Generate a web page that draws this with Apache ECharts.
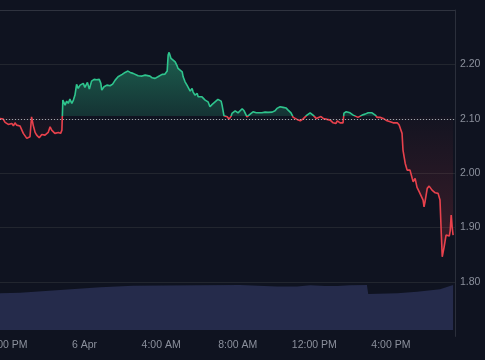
<!DOCTYPE html>
<html>
<head>
<meta charset="utf-8">
<script src="https://cdn.jsdelivr.net/npm/echarts@6/dist/echarts.min.js"></script>
<style>
  html, body { margin: 0; padding: 0; background: #0f1320; }
  #chart { width: 485px; height: 360px; }
</style>
</head>
<body>
<div id="chart"></div>
<script>
// ---- data ----
const year = '2024';
const times = [
  '04-05 19:35','04-05 19:45','04-05 19:51','04-05 20:01','04-05 20:12','04-05 20:17','04-05 20:22','04-05 20:27','04-05 20:38','04-05 20:43',
  '04-05 20:48','04-05 20:59','04-05 21:04','04-05 21:09','04-05 21:14','04-05 21:19','04-05 21:25','04-05 21:30','04-05 21:38','04-05 21:46',
  '04-05 21:56','04-05 22:06','04-05 22:12','04-05 22:17','04-05 22:27','04-05 22:38','04-05 22:45','04-05 22:49','04-05 22:52','04-05 22:59',
  '04-05 23:04','04-05 23:09','04-05 23:14','04-05 23:20','04-05 23:25','04-05 23:30','04-05 23:35','04-05 23:40','04-05 23:46','04-05 23:51',
  '04-05 23:56','04-06 00:01','04-06 00:09','04-06 00:15','04-06 00:22','04-06 00:30','04-06 00:38','04-06 00:46','04-06 00:51','04-06 00:54',
  '04-06 01:01','04-06 01:10','04-06 01:20','04-06 01:28','04-06 01:36','04-06 01:45','04-06 01:51','04-06 01:58','04-06 02:07','04-06 02:16',
  '04-06 02:23','04-06 02:29','04-06 02:32','04-06 02:38','04-06 02:48','04-06 02:54','04-06 03:00','04-06 03:10','04-06 03:16','04-06 03:25',
  '04-06 03:32','04-06 03:41','04-06 03:47','04-06 03:50','04-06 04:03','04-06 04:12','04-06 04:19','04-06 04:22','04-06 04:25','04-06 04:31',
  '04-06 04:37','04-06 04:44','04-06 04:50','04-06 04:53','04-06 04:59','04-06 05:06','04-06 05:09','04-06 05:15','04-06 05:21','04-06 05:24',
  '04-06 05:31','04-06 05:37','04-06 05:40','04-06 05:46','04-06 05:53','04-06 05:56','04-06 06:02','04-06 06:08','04-06 06:18','04-06 06:27',
  '04-06 06:33','04-06 06:40','04-06 06:49','04-06 06:58','04-06 07:08','04-06 07:11','04-06 07:17','04-06 07:27','04-06 07:33','04-06 07:39',
  '04-06 07:42','04-06 07:52','04-06 08:01','04-06 08:14','04-06 08:20','04-06 08:29','04-06 08:32','04-06 08:39','04-06 08:48','04-06 08:58',
  '04-06 09:04','04-06 09:16','04-06 09:26','04-06 09:35','04-06 09:48','04-06 09:57','04-06 10:03','04-06 10:13','04-06 10:22','04-06 10:32',
  '04-06 10:38','04-06 10:47','04-06 10:54','04-06 11:06','04-06 11:16','04-06 11:25','04-06 11:37','04-06 11:47','04-06 11:56','04-06 12:06',
  '04-06 12:12','04-06 12:21','04-06 12:28','04-06 12:40','04-06 12:50','04-06 12:59','04-06 13:08','04-06 13:12','04-06 13:21','04-06 13:30',
  '04-06 13:33','04-06 13:40','04-06 13:46','04-06 13:52','04-06 14:02','04-06 14:08','04-06 14:17','04-06 14:30','04-06 14:39','04-06 14:49',
  '04-06 15:01','04-06 15:11','04-06 15:17','04-06 15:26','04-06 15:36','04-06 15:48','04-06 15:58','04-06 16:07','04-06 16:20','04-06 16:26',
  '04-06 16:35','04-06 16:38','04-06 16:45','04-06 16:51','04-06 16:54','04-06 17:00','04-06 17:07','04-06 17:10','04-06 17:16','04-06 17:22',
  '04-06 17:29','04-06 17:35','04-06 17:41','04-06 17:44','04-06 17:47','04-06 17:54','04-06 18:00','04-06 18:09','04-06 18:19','04-06 18:28',
  '04-06 18:34','04-06 18:38','04-06 18:41','04-06 18:47','04-06 18:53','04-06 18:56','04-06 19:03','04-06 19:06','04-06 19:09','04-06 19:12',
  '04-06 19:15'
];
const prices = [
  2.1007,2.0994,2.0934,2.0897,2.0915,2.0871,2.0926,2.0884,2.0866,2.0853,
  2.0732,2.0640,2.0608,2.0669,2.1037,2.0884,2.0750,2.0700,2.0651,2.0713,
  2.0700,2.0750,2.0853,2.0792,2.0732,2.0750,2.0732,2.0792,2.1344,2.1252,
  2.1325,2.1283,2.1362,2.1283,2.1344,2.1436,2.1632,2.1559,2.1619,2.1588,
  2.1651,2.1577,2.1669,2.1546,2.1693,2.1724,2.1717,2.1724,2.1651,2.1528,
  2.1588,2.1619,2.1607,2.1638,2.1711,2.1772,2.1790,2.1816,2.1853,2.1877,
  2.1853,2.1877,2.1835,2.1864,2.1790,2.1816,2.1785,2.1803,2.1779,2.1785,
  2.1754,2.1743,2.1717,2.1772,2.1816,2.1822,2.1877,2.2171,2.2221,2.2110,
  2.2079,2.2048,2.1974,2.1926,2.1914,2.1864,2.1772,2.1680,2.1619,2.1588,
  2.1509,2.1559,2.1496,2.1436,2.1467,2.1404,2.1386,2.1404,2.1344,2.1312,
  2.1221,2.1265,2.1312,2.1357,2.1325,2.1252,2.1055,2.1037,2.0994,2.1044,
  2.1099,2.1147,2.1110,2.1184,2.1147,2.1037,2.1026,2.1086,2.1129,2.1110,
  2.1123,2.1110,2.1123,2.1118,2.1123,2.1147,2.1191,2.1221,2.1210,2.1197,
  2.1160,2.1110,2.1026,2.0989,2.0963,2.1000,2.1068,2.1110,2.1068,2.1007,
  2.1037,2.1040,2.1007,2.0989,2.0976,2.0926,2.0915,2.0963,2.0926,2.0926,
  2.1105,2.1129,2.1099,2.1110,2.1068,2.1099,2.1026,2.1068,2.1086,2.1110,
  2.1110,2.1068,2.1026,2.1026,2.1007,2.0963,2.0945,2.0926,2.0926,2.0884,
  2.0732,2.0425,2.0180,2.0057,2.0026,2.0057,1.9904,1.9842,1.9904,1.9739,
  1.9658,1.9676,1.9506,1.9382,1.9474,1.9721,1.9763,1.9689,1.9640,1.9629,
  1.9506,1.8893,1.8463,1.8647,1.8862,1.8893,1.8844,1.8941,1.9230,1.9015,
  1.8862
];
const baseline = 2.1045;

const volumeTimes = ['04-05 19:35','04-05 20:38','04-05 22:43','04-06 00:49','04-06 02:32','04-06 06:02','04-06 08:07','04-06 10:03','04-06 11:06','04-06 11:47','04-06 12:34','04-06 13:12','04-06 13:52','04-06 14:45','04-06 14:49','04-06 16:20','04-06 17:22','04-06 18:34','04-06 19:15'];
const volumes = [40.8,41.4,44.4,47.4,49.2,49.7,50.0,48.3,48.3,49.7,48.9,48.9,49.7,50.0,40.0,40.8,42.6,45.2,50.0];

const yTicks = [1.7, 2.3, 0.1]; // min, max, interval
const xStart = '04-05 19:35', xEnd = '04-06 19:21';
const xLabelHours = 4;
const months = ['Jan','Feb','Mar','Apr','May','Jun','Jul','Aug','Sep','Oct','Nov','Dec'];

// ---- build ----
function ts(s) {
  const [md, hm] = s.split(' ');
  const [mo, d] = md.split('-').map(Number);
  const [h, mi] = hm.split(':').map(Number);
  return new Date(+year, mo - 1, d, h, mi).getTime();
}
const priceData = times.map((t, i) => [ts(t), prices[i]]);
const volData = volumeTimes.map((t, i) => [ts(t), volumes[i]]);

const GREEN = '#2ec48d', RED = '#e8414c';
const yMin = yTicks[0], yMax = yTicks[1], yInt = yTicks[2];
const off = (yMax - baseline) / (yMax - yMin);

const gridTop = 10, gridBottom = 23.6;
const fillGrad = {
  type: 'linear', x: 0, y: gridTop, x2: 0, y2: 360 - gridBottom, global: true,
  colorStops: [
    { offset: 0, color: 'rgba(46,196,141,0.6)' },
    { offset: off - 0.0005, color: 'rgba(46,196,141,0.18)' },
    { offset: off, color: 'rgba(232,65,76,0.02)' },
    { offset: 1, color: 'rgba(232,65,76,0.32)' }
  ]
};

const labelColor = '#8b909c';
const H = 3600 * 1000;
const chart = echarts.init(document.getElementById('chart'), null, { renderer: 'canvas' });
chart.setOption({
  backgroundColor: '#0f1320',
  animation: false,
  grid: [
    { left: 0, right: 30, top: gridTop, bottom: gridBottom, outerBoundsMode: 'none', containLabel: false },
    { left: 0, right: 30, top: 240, bottom: 30, outerBoundsMode: 'none', containLabel: false }
  ],
  xAxis: [
    {
      type: 'time', gridIndex: 0, min: ts(xStart), max: ts(xEnd),
      minInterval: xLabelHours * H, maxInterval: xLabelHours * H,
      axisLine: { show: false }, axisTick: { show: false }, splitLine: { show: false },
      axisLabel: {
        color: labelColor, fontSize: 10.5, fontFamily: 'Liberation Sans, Arial, sans-serif', margin: 3,
        hideOverlap: false, showMinLabel: false, showMaxLabel: false,
        formatter: function (v) {
          const d = new Date(v); const h = d.getHours();
          if (d.getMinutes() !== 0) return '';
          if (h === 0) return d.getDate() + ' ' + months[d.getMonth()];
          const h12 = h % 12 || 12;
          return h12 + ':00 ' + (h < 12 ? 'AM' : 'PM');
        }
      }
    },
    { type: 'time', gridIndex: 1, min: ts(xStart), max: ts(xEnd), show: false }
  ],
  yAxis: [
    {
      type: 'value', gridIndex: 0, position: 'right', min: yMin, max: yMax, interval: yInt,
      axisLine: { show: true, lineStyle: { color: '#2b2f3b', width: 1 } },
      axisTick: { show: false },
      axisLabel: {
        color: labelColor, fontSize: 10.5, fontFamily: 'Liberation Sans, Arial, sans-serif', margin: 5,
        formatter: v => (v < yMin + yInt / 2 || v > yMax - yInt / 2) ? '' : v.toFixed(2)
      },
      splitLine: { show: true, lineStyle: { width: 1, color: ['rgba(0,0,0,0)', '#22262f', '#22262f', '#22262f', '#22262f', '#22262f', '#2f333f'] } }
    },
    { type: 'value', gridIndex: 1, min: 0, max: 100, show: false }
  ],
  visualMap: {
    type: 'piecewise', show: false, seriesIndex: 1, dimension: 1,
    pieces: [{ gt: baseline, lte: 10, color: GREEN }, { gte: 0, lte: baseline, color: RED }],
    outOfRange: { color: RED }
  },
  series: [
    {
      name: 'Volume', type: 'line', xAxisIndex: 1, yAxisIndex: 1, data: volData,
      symbol: 'none', lineStyle: { width: 0 }, areaStyle: { color: '#252b4b', opacity: 1 }, z: 1
    },
    {
      name: 'Price', type: 'line', xAxisIndex: 0, yAxisIndex: 0, data: priceData,
      symbol: 'none', lineStyle: { width: 1.6 },
      areaStyle: { origin: baseline, color: fillGrad, opacity: 1 },
      markLine: {
        silent: true, symbol: 'none', label: { show: false },
        lineStyle: { type: [1, 2], color: '#a0a5b0', width: 1 },
        data: [{ yAxis: baseline }]
      },
      z: 3
    }
  ]
});
</script>
</body>
</html>
